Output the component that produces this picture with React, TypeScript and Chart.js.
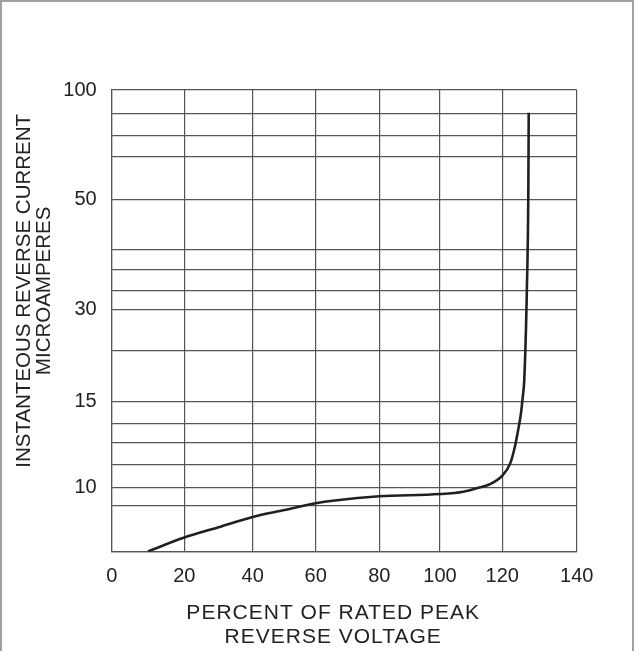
import React, { useEffect, useRef } from "react";
import { Chart, LinearScale, registerables } from "chart.js";

// ---- data ----
const X_TICKS = [0, 20, 40, 60, 80, 100, 120, 140];
const Y_LABELS = [10, 15, 30, 50, 100];
const VOLTAGE_PCT = [10, 20, 30, 40, 50, 60, 66, 80, 100, 107.5, 111.8, 116, 120, 122.1, 123.4, 124.3, 125, 125.5, 125.9, 126.6, 127, 127.1];
const CURRENT_UA = [6.3, 7.1, 7.7, 8.3, 8.7, 9.1, 9.26, 9.5, 9.63, 9.77, 9.97, 10.2, 10.7, 11.4, 12.4, 13.4, 14.3, 15.8, 18.5, 33.5, 54.5, 89.7];
const X_TITLE_LINES = ["PERCENT OF RATED PEAK", "REVERSE VOLTAGE"];
const Y_TITLE_LINES = ["INSTANTEOUS REVERSE CURRENT", "MICROAMPERES"];

// ---- layout (axis geometry of the printed graph paper) ----
const X_GRID_FRACTIONS = [0, 0.1561, 0.3032, 0.4387, 0.5755, 0.706, 0.84, 1];
const Y_LABEL_FRACTIONS = [0.1386, 0.3249, 0.525, 0.7618, 1];
const Y_GRID_FRACTIONS = [0, 0.0996, 0.1386, 0.1878, 0.2361, 0.2766, 0.3249, 0.4347, 0.525, 0.5653, 0.6117, 0.6535, 0.7618, 0.8555, 0.901, 0.948, 1];

const TEXT_COLOR = "#222222";
const GRID_COLOR = "#555555";
const FONT_FAMILY = '"Liberation Sans", Arial, sans-serif';

function interp(x: number, xs: number[], ys: number[]) {
  const n = xs.length;
  let i = 0;
  if (x <= xs[0]) i = 0;
  else if (x >= xs[n - 1]) i = n - 2;
  else {
    while (i < n - 2 && x > xs[i + 1]) i++;
  }
  const t = (x - xs[i]) / (xs[i + 1] - xs[i]);
  return ys[i] + t * (ys[i + 1] - ys[i]);
}

const KNOTS: Record<string, { values: number[]; fractions: number[] }> = {
  x: { values: X_TICKS, fractions: X_GRID_FRACTIONS },
  y: { values: Y_LABELS, fractions: Y_LABEL_FRACTIONS },
};

class PiecewiseScale extends LinearScale {
  static id = "piecewise";
  static defaults = LinearScale.defaults;
  getPixelForValue(value: number) {
    const k = KNOTS[(this as any).id];
    return this.getPixelForDecimal(interp(value, k.values, k.fractions));
  }
  getValueForPixel(pixel: number) {
    const k = KNOTS[(this as any).id];
    return interp(this.getDecimalForPixel(pixel), k.fractions, k.values);
  }
}

Chart.register(...registerables, PiecewiseScale as any);

const titlePlugin = {
  id: "axisTitles",
  afterDraw(chart: any) {
    const ctx = chart.ctx as any;
    const area = chart.chartArea;
    ctx.save();
    ctx.fillStyle = TEXT_COLOR;
    ctx.textAlign = "center";
    ctx.textBaseline = "middle";
    ctx.font = `21px ${FONT_FAMILY}`;
    ctx.letterSpacing = "1px";
    const cx = (area.left + area.right) / 2 - 11;
    X_TITLE_LINES.forEach((line, i) => ctx.fillText(line, cx, area.bottom + 62 + i * 23.5));
    ctx.letterSpacing = "0px";
    ctx.font = `20.5px ${FONT_FAMILY}`;
    ctx.translate(area.left - 87, (area.top + area.bottom) / 2 - 30);
    ctx.rotate(-Math.PI / 2);
    Y_TITLE_LINES.forEach((line, i) => ctx.fillText(line, 0, i * 20));
    ctx.restore();
  },
};

export default function App() {
  const ref = useRef<HTMLCanvasElement | null>(null);
  useEffect(() => {
    if (!ref.current) return;
    const yMin = interp(0, Y_LABEL_FRACTIONS, Y_LABELS);
    const chart = new Chart(ref.current, {
      type: "line",
      data: {
        datasets: [
          {
            data: VOLTAGE_PCT.map((x, i) => ({ x, y: CURRENT_UA[i] })),
            borderColor: "#231f20",
            borderWidth: 2.6,
            pointRadius: 0,
            cubicInterpolationMode: "monotone",
            fill: false,
          },
        ],
      },
      options: {
        animation: false,
        responsive: false,
        devicePixelRatio: 1,
        layout: { padding: { left: 0, right: 59.3, top: 90, bottom: 0 } },
        plugins: { legend: { display: false }, tooltip: { enabled: false } },
        scales: {
          x: {
            type: "piecewise" as any,
            min: 0,
            max: 140,
            afterBuildTicks: (scale: any) => {
              scale.ticks = X_TICKS.map((v) => ({ value: v }));
            },
            afterFit: (scale: any) => {
              scale.height = 99.3;
            },
            grid: { color: GRID_COLOR, lineWidth: 1.2, drawTicks: false },
            border: { color: GRID_COLOR, width: 1.2 },
            ticks: {
              autoSkip: false,
              maxRotation: 0,
              padding: 13,
              color: TEXT_COLOR,
              font: { family: FONT_FAMILY, size: 20 },
              callback: (v: any) => String(v),
            },
          },
          y: {
            type: "piecewise" as any,
            min: yMin,
            max: 100,
            afterBuildTicks: (scale: any) => {
              scale.ticks = Y_GRID_FRACTIONS.map((f) => ({ value: interp(f, Y_LABEL_FRACTIONS, Y_LABELS) }));
            },
            afterFit: (scale: any) => {
              scale.width = 111.7;
            },
            grid: { color: GRID_COLOR, lineWidth: 1.2, drawTicks: false },
            border: { color: GRID_COLOR, width: 1.2 },
            ticks: {
              autoSkip: false,
              padding: 15,
              color: TEXT_COLOR,
              font: { family: FONT_FAMILY, size: 20 },
              callback: (v: any) => {
                const lab = Y_LABELS.find((l) => Math.abs(l - Number(v)) < 1e-6);
                return lab === undefined ? "" : String(lab);
              },
            },
          },
        },
      },
      plugins: [titlePlugin],
    } as any);
    return () => chart.destroy();
  }, []);

  return (
    <div style={{ position: "absolute", left: 0, top: 0, width: 636, height: 651, overflow: "hidden", background: "#fff" }}>
      <canvas ref={ref} width={636} height={651} style={{ position: "absolute", left: 0, top: 0, width: 636, height: 651 }} />
      <div
        style={{
          position: "absolute",
          left: 0,
          top: 0,
          width: 634,
          height: 670,
          boxSizing: "border-box",
          border: "2px solid #a0a0a0",
          pointerEvents: "none",
        }}
      />
    </div>
  );
}
